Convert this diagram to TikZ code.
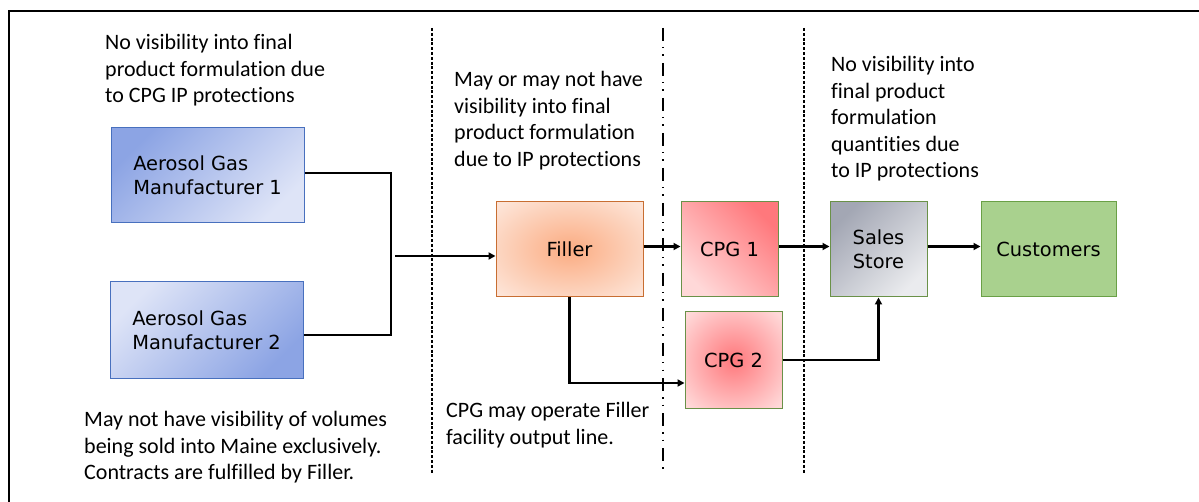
\documentclass[tikz,border=0pt]{standalone}
\usepackage{fontspec}
\setmainfont{Carlito}[Ligatures=NoCommon]
\newfontfamily\boxfont{DejaVu Sans}
\usetikzlibrary{arrows.meta}
\usetikzlibrary{positioning}
\definecolor{gasdark}{RGB}{140,164,228}
\definecolor{gaslight}{RGB}{222,228,247}
\definecolor{gasline}{RGB}{72,112,190}
\definecolor{filldark}{RGB}{251,172,130}
\definecolor{filllight}{RGB}{253,228,215}
\definecolor{fillline}{RGB}{200,110,50}
\definecolor{cpgdark}{RGB}{255,120,124}
\definecolor{cpglight}{RGB}{255,216,216}
\definecolor{cpgline}{RGB}{106,145,72}
\definecolor{storedark}{RGB}{163,167,180}
\definecolor{storelight}{RGB}{234,235,238}
\definecolor{custfill}{RGB}{169,209,142}
\definecolor{custline}{RGB}{106,160,70}
\pgfdeclareradialshading{fillglow}{\pgfpoint{0bp}{0bp}}{color(0bp)=(filldark);color(33bp)=(filllight);color(50bp)=(filllight)}
\pgfdeclareradialshading{cpgglow}{\pgfpoint{0bp}{0bp}}{color(0bp)=(cpgdark);color(33bp)=(cpglight);color(50bp)=(cpglight)}
\begin{document}
\begin{tikzpicture}[x=1pt,y=-1pt,
		box/.style={draw,line width=1pt,inner sep=0pt,align=center,font=\boxfont\fontsize{19.4}{23.6}\selectfont},
		note/.style={anchor=north west,inner sep=0pt,align=left,font=\fontsize{22}{26.6}\selectfont},
		link/.style={line width=2.6pt},
		flow/.style={line width=2.6pt,-{Triangle[length=7pt,width=7pt]}},
		sep/.style={line width=1.3pt,dash pattern=on 3pt off 1.8pt},
		sepdot/.style={line width=1.3pt,dash pattern=on 13pt off 6pt on 1.5pt off 6pt on 1.5pt off 7pt}]

		\useasboundingbox (0,0) rectangle (1199,502);
		\draw[line width=2pt] (8.5,502) -- (8.5,11) -- (1199,11);

		\draw[sep] (432,28) -- (432,473);
		\draw[sepdot] (663,28) -- (663,470);
		\draw[sep] (804,28) -- (804,473);

		\node [box,align=left,draw=gasline,top color=gasdark,bottom color=gaslight,shading angle=45,
			minimum width=193pt,minimum height=95pt,name=gas1] at (207.5,175.5) {Aerosol Gas\\Manufacturer 1};
		\node [box,align=left,draw=gasline,top color=gaslight,bottom color=gasdark,shading angle=45,
			minimum width=193pt,minimum height=96pt,name=gas2] at (206.5,330) {Aerosol Gas\\Manufacturer 2};
		\node [box,draw=fillline,shade,shading=fillglow,
			minimum width=147pt,minimum height=95pt,name=fill] at (569.5,249.5) {Filler};
		\node [box,draw=cpgline,top color=cpgdark,bottom color=cpglight,shading angle=-45,
			minimum width=97pt,minimum height=95pt,name=cpg1] at (729.5,249.5) {CPG 1};
		\node [box,draw=cpgline,shade,shading=cpgglow,
			minimum width=97pt,minimum height=96pt,name=cpg2] at (733.5,360) {CPG 2};
		\node [box,draw=cpgline,top color=storedark,bottom color=storelight,shading angle=45,
			minimum width=97pt,minimum height=95pt,name=store] at (878.5,249.5) {Sales\\Store};
		\node [box,draw=custline,fill=custfill,
			minimum width=135pt,minimum height=95pt,name=cust] at (1048.5,249.5) {Customers};

		\coordinate (bus) at (391,255);
		\coordinate (feed) at (395,256);
		\draw[link] ([yshift=2.5pt]gas1.east) -| (bus) |- ([yshift=-5pt]gas2.east);
		\draw[flow] (feed) -- (feed -| fill.west);
		\draw[flow] ([yshift=3pt]fill.east) -- ([yshift=3pt]cpg1.west);
		\draw[flow] (fill.south) |- ([yshift=-23pt]cpg2.west);
		\draw[flow] ([yshift=3pt]cpg1.east) -- ([yshift=3pt]store.west);
		\draw[flow] (cpg2.east) -| (store.south);
		\draw[flow] ([yshift=3pt]store.east) -- ([yshift=3pt]cust.west);

		\node [note,name=gasNote] at (105,34) {No visibility into final\\product formulation due\\to CPG IP protections};
		\node [note,name=fillNote] at (454,71) {May or may not have\\visibility into final\\product formulation\\due to IP protections};
		\node [note,name=cpgNote] at (446,402) {CPG may operate Filler\\facility output line.};
		\node [note,name=storeNote] at (831,56) {No visibility into\\final product\\formulation\\quantities due\\to IP protections};
		\node [note,name=volNote] at (84,411) {May not have visibility of volumes\\being sold into Maine exclusively.\\Contracts are fulfilled by Filler.};
	\end{tikzpicture}
\end{document}
